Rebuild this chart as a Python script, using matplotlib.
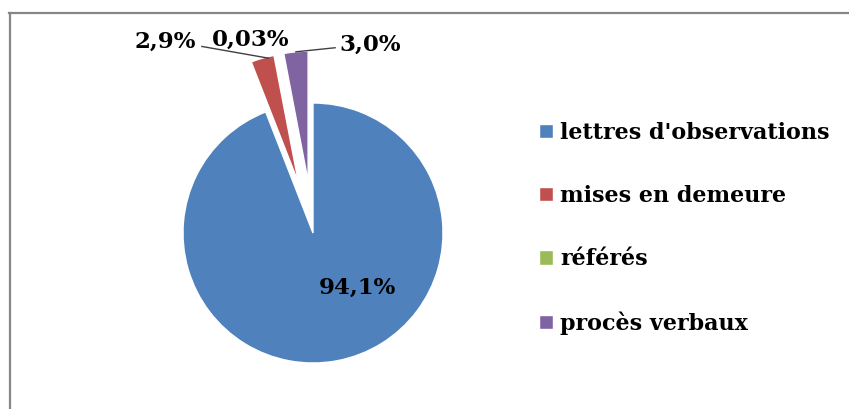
import numpy as np
import matplotlib.pyplot as plt
from matplotlib.lines import Line2D

# data
categories = ["lettres d'observations", "mises en demeure", "référés", "procès verbaux"]
shares = [94.1, 2.9, 0.03, 3.0]
pct_labels = ["94,1%", "2,9%", "0,03%", "3,0%"]
colors = ["#4F81BD", "#C0504D", "#9BBB59", "#8064A2"]

W, H = 849, 409
R = 130.0  # pie radius in px
cx, cy = 313, 409 - 233  # pie centre in px from bottom-left

fig = plt.figure(figsize=(W / 100, H / 100), dpi=100)
ax = fig.add_axes([0, 0, 1, 1])

explode = [0, 0.4, 0.4, 0.4]
wedges, _ = ax.pie(shares, explode=explode, colors=colors, startangle=90,
                   counterclock=False, radius=1,
                   wedgeprops=dict(edgecolor="white", linewidth=1))
ax.set_xlim(-cx / R, (W - cx) / R)
ax.set_ylim(-cy / R, (H - cy) / R)
ax.set_aspect("auto")
ax.axis("off")

font = dict(family="DejaVu Serif", weight="bold", fontsize=16.5, color="black")

# label positions (data units)
label_pos = [(0.34, -0.42), (-1.14, 1.47), (-0.48, 1.485), (0.44, 1.45)]
for txt, (x, y) in zip(pct_labels, label_pos):
    ax.text(x, y, txt, ha="center", va="center", **font)

# leader lines for the two tiny/top slices
def outer_mid(w, ex):
    mid = np.deg2rad((w.theta1 + w.theta2) / 2)
    return (ex * np.cos(mid) + np.cos(mid), ex * np.sin(mid) + np.sin(mid))

gx, gy = outer_mid(wedges[2], explode[2])
ax.add_line(Line2D([-0.855, gx - 0.08], [1.435, gy - 0.03], color="#404040", lw=1))
px_, py_ = outer_mid(wedges[3], explode[3])
ax.add_line(Line2D([px_, 0.17], [py_, 1.425], color="#404040", lw=1))

# legend
leg = fig.legend(wedges, categories, loc="upper left",
                 bbox_to_anchor=(539 / W, 1 - 122 / H), frameon=False,
                 prop=dict(family="DejaVu Serif", weight="bold", size=16),
                 handlelength=0.62, handleheight=0.62, handletextpad=0.32,
                 labelspacing=1.85, borderpad=0, borderaxespad=0)

# chart-area border (top and left only visible)
fig.add_artist(Line2D([9 / W, 1], [1 - 12.5 / H, 1 - 12.5 / H], color="#868686",
                      lw=1.6, transform=fig.transFigure))
fig.add_artist(Line2D([9.5 / W, 9.5 / W], [0, 1 - 12.5 / H], color="#868686",
                      lw=1.6, transform=fig.transFigure))

fig.savefig("out.png", dpi=100)
